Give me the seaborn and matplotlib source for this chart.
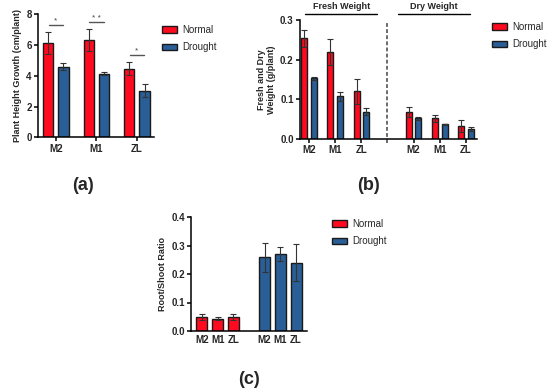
import numpy as np
import pandas as pd
import seaborn as sns
import matplotlib.pyplot as plt
from matplotlib.patches import Patch

sns.set_theme(style="ticks")
plt.rcParams['font.family'] = ['Liberation Sans', 'DejaVu Sans']

RED = '#FF0A1E'
BLUE = '#2A5E96'
EDGE = '#1a1a1a'

genotypes = ['M2', 'M1', 'ZL']
treatments = ['Normal', 'Drought']

# (a) plant height growth
height_normal = [6.1, 6.3, 4.45]
height_normal_err = [0.72, 0.7, 0.42]
height_drought = [4.58, 4.12, 3.04]
height_drought_err = [0.22, 0.1, 0.4]
height_sig = ['*', '* *', '*']

# (b) fresh / dry weight
fresh_normal = [0.254, 0.22, 0.12]
fresh_normal_err = [0.021, 0.033, 0.031]
fresh_drought = [0.153, 0.108, 0.069]
fresh_drought_err = [0.004, 0.011, 0.009]
dry_normal = [0.068, 0.052, 0.032]
dry_normal_err = [0.012, 0.009, 0.015]
dry_drought = [0.052, 0.037, 0.025]
dry_drought_err = [0.003, 0.002, 0.006]

# (c) root/shoot ratio
ratio_normal = [0.049, 0.043, 0.049]
ratio_normal_err = [0.009, 0.006, 0.012]
ratio_drought = [0.259, 0.27, 0.24]
ratio_drought_err = [0.051, 0.026, 0.064]

W, H = 550, 392
fig = plt.figure(figsize=(5.5, 3.92), dpi=100)


def px_axes(left, top, right, bottom):
    return fig.add_axes([left / W, 1 - bottom / H, (right - left) / W, (bottom - top) / H])


def style_axes(ax):
    sns.despine(ax=ax)
    for s in ['left', 'bottom']:
        ax.spines[s].set_linewidth(1.1)
        ax.spines[s].set_color('black')
    ax.tick_params(axis='both', length=3, width=1.1, color='black', labelsize=7, pad=1.5)
    for lab in ax.get_xticklabels() + ax.get_yticklabels():
        lab.set_fontweight('bold')
    ax.set_xlabel('')


def add_errors(ax, xs, ys, es):
    ax.errorbar(xs, ys, yerr=es, fmt='none', ecolor='#333333', elinewidth=0.8,
                capsize=2.2, capthick=0.8, zorder=5)


def add_legend(ax, x, y):
    handles = [Patch(facecolor=RED, edgecolor=EDGE, linewidth=1.0, label='Normal'),
               Patch(facecolor=BLUE, edgecolor=EDGE, linewidth=1.0, label='Drought')]
    ax.legend(handles=handles, loc='upper left', bbox_to_anchor=(x / W, 1 - y / H),
              bbox_transform=fig.transFigure, frameon=False, fontsize=7,
              handlelength=1.5, handleheight=0.6, handletextpad=0.6, labelspacing=0.75,
              borderaxespad=0, borderpad=0)


def draw_bars(ax, data, x, order, **kw):
    sns.barplot(data=data, x=x, y='value', hue='treatment', order=order,
                hue_order=treatments, palette=[RED, BLUE], saturation=1,
                edgecolor=EDGE, linewidth=1.0, errorbar=None, legend=False, ax=ax, **kw)


# ---- (a)
df_a = pd.DataFrame({
    'genotype': genotypes * 2,
    'treatment': ['Normal'] * 3 + ['Drought'] * 3,
    'value': height_normal + height_drought,
})
ax_a = px_axes(38, 14, 154, 137.5)
draw_bars(ax_a, df_a, 'genotype', genotypes, width=0.75, gap=0.33)
off = 0.1875
xs = np.arange(3)
add_errors(ax_a, xs - off, height_normal, height_normal_err)
add_errors(ax_a, xs + off, height_drought, height_drought_err)
for i, s in enumerate(height_sig):
    top = max(height_normal[i] + height_normal_err[i], height_drought[i] + height_drought_err[i])
    yl = top + 0.45
    ax_a.plot([i - 0.18, i + 0.18], [yl, yl], color='#555555', lw=1.0, clip_on=False)
    ax_a.text(i, yl + 0.05, s, ha='center', va='bottom', fontsize=6, color='#444444')
ax_a.set_xlim(-0.44, 2.42)
ax_a.set_ylim(0, 8)
ax_a.set_yticks([0, 2, 4, 6, 8])
ax_a.set_ylabel('Plant Height Growth (cm/plant)', fontsize=6.5, fontweight='bold', labelpad=3)
style_axes(ax_a)
add_legend(ax_a, 162, 25)

# ---- (b)
b_order = ['F-M2', 'F-M1', 'F-ZL', 'gap', 'D-M2', 'D-M1', 'D-ZL']
df_b = pd.DataFrame({
    'cat': ['F-' + g for g in genotypes] * 2 + ['D-' + g for g in genotypes] * 2,
    'treatment': (['Normal'] * 3 + ['Drought'] * 3) * 2,
    'value': fresh_normal + fresh_drought + dry_normal + dry_drought,
})
ax_b = px_axes(300, 20, 477, 139)
draw_bars(ax_b, df_b, 'cat', b_order, width=0.72, gap=0.36)
off = 0.18
xf = np.array([0, 1, 2])
xd = np.array([4, 5, 6])
add_errors(ax_b, xf - off, fresh_normal, fresh_normal_err)
add_errors(ax_b, xf + off, fresh_drought, fresh_drought_err)
add_errors(ax_b, xd - off, dry_normal, dry_normal_err)
add_errors(ax_b, xd + off, dry_drought, dry_drought_err)
ax_b.axvline(3, ymin=-0.035, ymax=0.98, color='#444444', lw=1.1, ls=(0, (2.5, 1.5)), clip_on=False)
ax_b.set_xlim(-0.34, 6.42)
ax_b.set_ylim(0, 0.3)
ax_b.set_yticks([0, 0.1, 0.2, 0.3])
ax_b.set_yticklabels(['0.0', '0.1', '0.2', '0.3'])
ax_b.set_xticks([0, 1, 2, 4, 5, 6])
ax_b.set_xticklabels(genotypes * 2)
ax_b.set_ylabel('Fresh and Dry\nWeight (g/plant)', fontsize=6.5, fontweight='bold', labelpad=3)
style_axes(ax_b)
for x0, x1, label in [(-0.13, 2.6, 'Fresh Weight'), (3.4, 6.15, 'Dry Weight')]:
    ax_b.plot([x0, x1], [0.314, 0.314], color='black', lw=1.0, clip_on=False)
    ax_b.text((x0 + x1) / 2, 0.322, label, ha='center', va='bottom', fontsize=6.5,
              fontweight='bold')
add_legend(ax_b, 492, 22)

# ---- (c)
c_order = ['N-M2', 'N-M1', 'N-ZL', 'gap', 'S-M2', 'S-M1', 'S-ZL']
df_c = pd.DataFrame({
    'cat': ['N-' + g for g in genotypes] + ['S-' + g for g in genotypes],
    'treatment': ['Normal'] * 3 + ['Drought'] * 3,
    'value': ratio_normal + ratio_drought,
})
ax_c = px_axes(191, 217, 307, 331)
draw_bars(ax_c, df_c, 'cat', c_order, dodge=False, width=0.7)
add_errors(ax_c, [0, 1, 2], ratio_normal, ratio_normal_err)
add_errors(ax_c, [4, 5, 6], ratio_drought, ratio_drought_err)
ax_c.set_xlim(-0.7, 6.7)
ax_c.set_ylim(0, 0.4)
ax_c.set_yticks([0, 0.1, 0.2, 0.3, 0.4])
ax_c.set_yticklabels(['0.0', '0.1', '0.2', '0.3', '0.4'])
ax_c.set_xticks([0, 1, 2, 4, 5, 6])
ax_c.set_xticklabels(genotypes * 2)
ax_c.set_ylabel('Root/Shoot Ratio', fontsize=6.5, fontweight='bold', labelpad=3)
style_axes(ax_c)
ax_c.tick_params(axis='x', length=0, pad=3)
add_legend(ax_c, 332, 219)

# panel labels
for x, y, lab in [(83, 186, '(a)'), (368, 186, '(b)'), (249, 380, '(c)')]:
    fig.text(x / W, 1 - y / H, lab, ha='center', va='center', fontsize=13, fontweight='bold')

fig.savefig('out.png', dpi=100)
